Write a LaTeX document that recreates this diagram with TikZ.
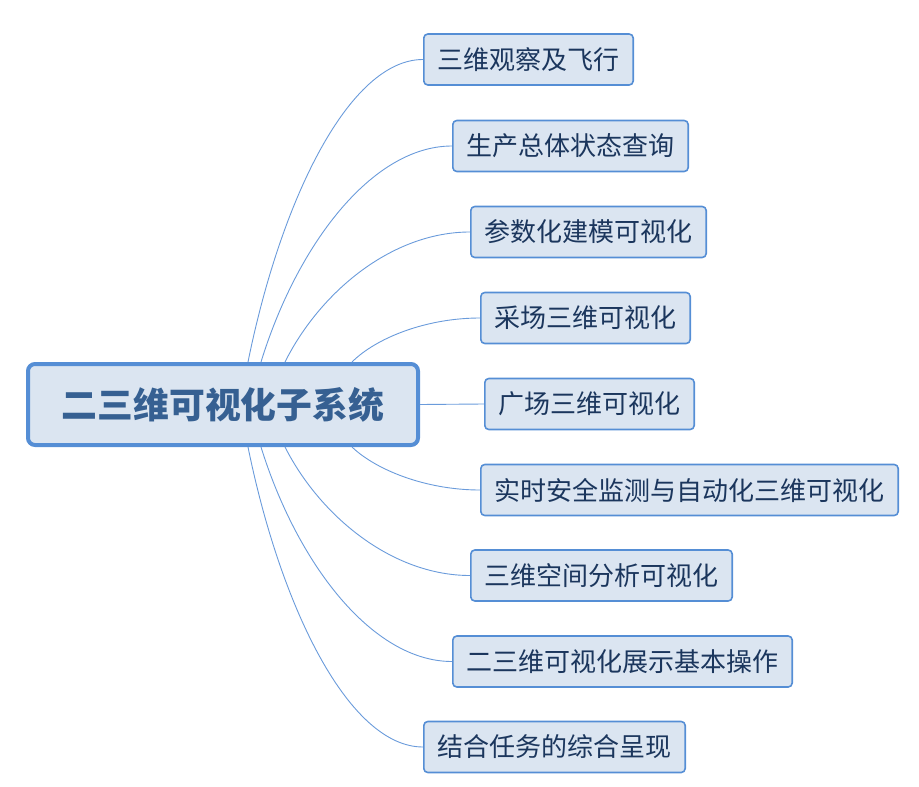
\documentclass[tikz,border=0pt]{standalone}
\usepackage{fontspec}
\newfontfamily\cjk{Noto Sans CJK SC}
\usetikzlibrary{calc}
\definecolor{nodefill}{HTML}{DBE5F1}
\definecolor{bordercol}{HTML}{558ED5}
\definecolor{linecol}{HTML}{6A9BDB}
\definecolor{leaftext}{HTML}{1B365D}
\definecolor{roottext}{HTML}{366092}
\tikzset{
  leaf/.style={draw=bordercol, fill=nodefill, line width=1.6pt, rounded corners=4pt,
    anchor=west, inner xsep=13.7pt, inner ysep=0pt, minimum height=51pt,
    font=\cjk\fontsize{26}{26}\selectfont, text=leaftext},
  rootbox/.style={draw=bordercol, fill=nodefill, line width=4pt, rounded corners=7pt,
    minimum width=390pt, minimum height=81pt, inner sep=0pt,
    font=\cjk\bfseries\fontsize{35.8}{36}\selectfont, text=roottext},
  conn/.style={draw=linecol, line width=0.9pt}
}
\begin{document}
\begin{tikzpicture}[x=1pt,y=-1pt]
\useasboundingbox (0,0) rectangle (919,787);
\node[rootbox] (c) at (223,404.5) {二三维可视化子系统};
\node[leaf] (n1) at (423,59.5) {三维观察及飞行};
\node[leaf] (n2) at (452,146) {生产总体状态查询};
\node[leaf] (n3) at (470,232) {参数化建模可视化};
\node[leaf] (n4) at (480,318) {采场三维可视化};
\node[leaf] (n5) at (484,404) {广场三维可视化};
\node[leaf] (n6) at (480,490) {实时安全监测与自动化三维可视化};
\node[leaf] (n7) at (470,575.5) {三维空间分析可视化};
\node[leaf] (n8) at (452,661.5) {二三维可视化展示基本操作};
\node[leaf] (n9) at (423,747) {结合任务的综合呈现};
\coordinate (t1) at ([xshift=25pt]c.north);
\coordinate (t2) at ([xshift=38pt]c.north);
\coordinate (t3) at ([xshift=62pt]c.north);
\coordinate (t4) at ([xshift=129pt]c.north);
\coordinate (b1) at ([xshift=25pt]c.south);
\coordinate (b2) at ([xshift=38pt]c.south);
\coordinate (b3) at ([xshift=62pt]c.south);
\coordinate (b4) at ([xshift=129pt]c.south);
\begin{scope}[on background layer/.style={}]
\draw[conn] (t1) .. controls +(33,-163) and +(-73.5,0) .. (n1.west);
\draw[conn] (t2) .. controls +(36,-117) and +(-80,0) .. (n2.west);
\draw[conn] (t3) .. controls +(35,-70) and +(-78,0) .. (n3.west);
\draw[conn] (t4) .. controls +(24,-24) and +(-54,0) .. (n4.west);
\draw[conn] (c.east) -- (n5.west);
\draw[conn] (b4) .. controls +(24,23) and +(-54,0) .. (n6.west);
\draw[conn] (b3) .. controls +(35,69) and +(-78,0) .. (n7.west);
\draw[conn] (b2) .. controls +(36,116) and +(-80,0) .. (n8.west);
\draw[conn] (b1) .. controls +(33,162) and +(-73.5,0) .. (n9.west);
\end{scope}
\end{tikzpicture}
\end{document}
